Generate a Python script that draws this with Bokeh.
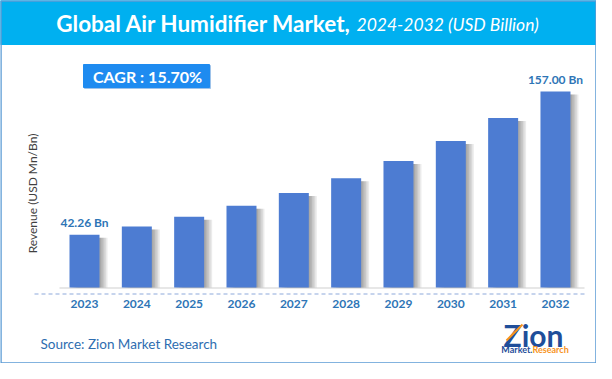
from bokeh.plotting import figure
from bokeh.models import Range1d, ColumnDataSource
from bokeh.core.properties import value
from bokeh.embed import file_html
from bokeh.resources import INLINE

# ---- data ----
years = ["2023", "2024", "2025", "2026", "2027", "2028", "2029", "2030", "2031", "2032"]
revenue = [42.26, 48.9, 56.6, 65.5, 75.7, 87.6, 101.4, 117.3, 135.7, 157.00]
cagr_text = "CAGR :  15.70%"
title_main = "Global Air Humidifier Market,"
title_sub = "2024-2032 (USD Billion)"
y_label = "Revenue (USD Mn/Bn)"
source_text = "Source: Zion Market Research"

W, H = 596, 363
PX_X = 52.33          # pixels per category
PX_Y = 196 / 157.0    # pixels per billion
X0 = 84               # pixel centre of first bar
Y0 = 287              # pixel baseline (from top)

p = figure(width=W, height=H, output_backend="svg", toolbar_location=None,
           x_axis_type=None, y_axis_type=None, min_border=0,
           x_range=Range1d(-X0 / PX_X, (W - X0) / PX_X),
           y_range=Range1d(-(H - Y0) / PX_Y, Y0 / PX_Y))
p.outline_line_color = None
p.background_fill_color = "white"
p.border_fill_color = "white"
p.grid.visible = False
p.extra_x_ranges = {"px": Range1d(0, W)}
p.extra_y_ranges = {"px": Range1d(H, 0)}

PX = dict(x_range_name="px", y_range_name="px")
FONT = value("Lato")

# title band
p.quad(left=[0], right=[W], top=[0], bottom=[44], color="#00B0F0", **PX)
p.text(x=[351], y=[23], text=[title_main], text_align="right", text_baseline="middle",
       text_color="white", text_font=FONT, text_font_style="bold", text_font_size="22.5px", **PX)
p.text(x=[356], y=[24], text=[title_sub], text_align="left", text_baseline="middle",
       text_color="white", text_font=FONT, text_font_style="italic", text_font_size="17.5px", **PX)

# baseline lines
p.line(x=[59, 584], y=[287.5, 287.5], line_color="#D0D0D0", line_width=1.2, **PX)
p.line(x=[34, 586], y=[293.5, 293.5], line_color="#8EA9DB", line_width=1.2,
       line_dash="4 3", **PX)

# bars with soft shadows
xs = list(range(len(years)))
src = ColumnDataSource(dict(x=xs, top=revenue, year=years))
bw = 30 / PX_X
for k in range(1, 6):
    sh = dict(x=[i + (1.6 * k) / PX_X for i in xs],
              top=[v - 3 / PX_Y for v in revenue])
    p.vbar(x="x", top="top", bottom=0, width=bw, source=ColumnDataSource(sh),
           color="black", alpha=0.08, line_color=None)
p.vbar(x="x", top="top", bottom=0, width=bw, source=src, color="#4D7CD2", line_color=None)

# year labels
p.text(x="x", y=-16 / PX_Y, text="year", source=src, text_align="center",
       text_baseline="middle", text_color="#2E75B6", text_font=FONT,
       text_font_style="bold", text_font_size="12px")

# value annotations (first and last)
ends = [0, len(years) - 1]
p.text(x=[xs[i] for i in ends], y=[revenue[i] + 12 / PX_Y for i in ends],
       text=[f"{revenue[i]:.2f} Bn" for i in ends], text_align="center",
       text_baseline="middle", text_color="#2E75B6", text_font=FONT,
       text_font_style="bold", text_font_size="12px")

# CAGR box
p.quad(left=[84], right=[210], top=[65], bottom=[88], color="#9EC3EA", **PX)
p.quad(left=[83], right=[209], top=[64], bottom=[87], color="#1E8BF0", **PX)
p.text(x=[149], y=[76], text=[cagr_text], text_align="center", text_baseline="middle",
       text_color="white", text_font=FONT, text_font_style="bold", text_font_size="16px", **PX)

# y axis label
p.text(x=[32], y=[193], text=[y_label], angle=1.5708, text_align="center",
       text_baseline="middle", text_color="#404040", text_font=FONT,
       text_font_size="12px", **PX)

# source
p.text(x=[40], y=[343], text=[source_text], text_align="left", text_baseline="middle",
       text_color="#2E6DB0", text_font=FONT, text_font_size="13.5px", **PX)

# logo
p.text(x=[533], y=[334], text=["Zion"], text_align="center", text_baseline="middle",
       text_color="#1F4E9A", text_font=FONT, text_font_style="bold", text_font_size="30px", **PX)
p.line(x=[506, 522], y=[340, 324], line_color="#F7941D", line_width=2, **PX)
p.text(x=[532], y=[349], text=["Market."], text_align="right", text_baseline="middle",
       text_color="#1F4E9A", text_font=FONT, text_font_style="bold", text_font_size="9px", **PX)
p.text(x=[532], y=[349], text=["Research"], text_align="left", text_baseline="middle",
       text_color="#F7941D", text_font=FONT, text_font_style="bold", text_font_size="9px", **PX)

# outer border
p.quad(left=[0], right=[W], top=[0], bottom=[H], fill_color=None,
       line_color="#5B9BD5", line_width=2.5, **PX)

open("out.html", "w").write(file_html(p, INLINE))
